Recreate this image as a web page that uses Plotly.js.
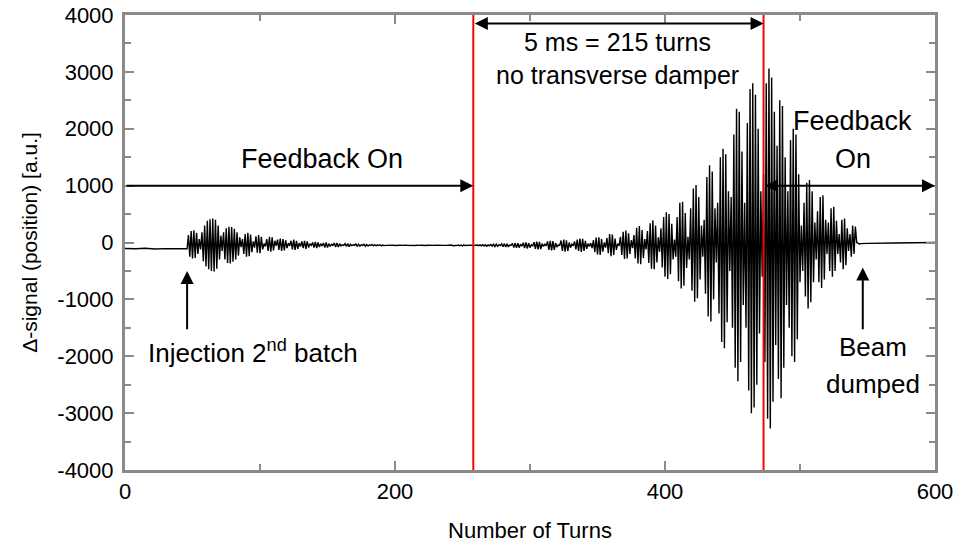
<!DOCTYPE html>
<html>
<head>
<meta charset="utf-8">
<script src="https://cdn.plot.ly/plotly-3.0.1.min.js"></script>
<style>html,body{margin:0;padding:0;background:#fff;}#chart{width:959px;height:549px;}</style>
</head>
<body>
<div id="chart"></div>
<script>
// ---- data ----
const preTurns = [0, 8, 15, 22, 30, 38, 45];
const preVals  = [-105, -110, -100, -115, -108, -112, -110];

const signalStartTurn = 46; // one sample per turn from here
const signal = [
  -110,130,-250,200,-280,215,-270,170,-200,60,      // 46-55
  -120,180,-330,300,-420,380,-470,410,-500,420,     // 56-65
  -510,400,-460,300,-300,120,-150,180,-300,250,     // 66-75
  -360,275,-370,270,-340,240,-300,180,-230,90,      // 76-85
  -80,60,-200,150,-250,170,-240,140,-170,20,        // 86-95
  -90,110,-180,130,-190,100,-120,-20,-70,60,        // 96-105
  -150,100,-160,90,-140,30,-60,50,-130,70,          // 106-115
  -150,60,-140,40,-100,-10,-60,30,-120,50,          // 116-125
  -130,30,-110,-10,-70,20,-100,30,-110,20,          // 126-135
  -90,-20,-50,0,-90,10,-100,0,-80,-20,              // 136-145
  -60,-10,-90,0,-90,-20,-70,-30,-50,-10,            // 146-155
  -80,-10,-80,-20,-60,-40,-50,-20,-70,-20,          // 156-165
  -75,-30,-55,-40,-50,-25,-70,-30,-65,-40,          // 166-175
  -50,-30,-65,-35,-60,-45,-50,-35,-60,-40,          // 176-185
  -55,-45,-50,-40,-60,-45,-55,-50,-48,-55,          // 186-195
  -45,-52,-50,-47,-53,-50,-46,-54,-49,-51,          // 196-205
  -47,-55,-48,-50,-52,-46,-54,-50,-49,-52,          // 206-215
  -47,-53,-50,-48,-51,-50,-49,-52,-48,-51,          // 216-225
  -50,-47,-53,-50,-49,-51,-50,-48,-52,-50,          // 226-235
  -49,-51,-50,-48,-52,-50,-45,-56,-48,-52,          // 236-245
  -50,-44,-58,-46,-60,-42,-54,-50,-48,-52,          // 246-255
  -50,-46,-55,-49,-51,-45,-56,-42,-60,-40,          // 256-265
  -62,-38,-64,-42,-58,-35,-62,-30,-70,-28,          // 266-275
  -68,-40,-55,-25,-75,-20,-80,-22,-78,-45,          // 276-285
  -50,-15,-88,-10,-92,-12,-90,-30,-65,-5,           // 286-295
  -100,0,-105,-10,-90,-40,-60,5,-110,15,            // 296-305
  -120,10,-115,-20,-70,-30,-60,20,-130,30,          // 306-315
  -140,25,-130,-10,-80,-40,-50,35,-150,50,          // 316-325
  -160,40,-150,0,-90,-30,-60,20,-120,50,            // 326-335
  -150,70,-165,65,-150,30,-110,-20,-70,-10,         // 336-345
  -100,40,-170,85,-210,90,-220,60,-160,0,           // 346-355
  -90,80,-190,150,-240,140,-220,70,-130,-20,        // 356-365
  -60,100,-220,190,-290,210,-280,160,-200,40,       // 366-375
  -100,130,-280,260,-370,290,-380,220,-270,60,      // 376-385
  -120,200,-360,340,-460,390,-470,300,-350,90,      // 386-395
  -160,250,-440,450,-600,530,-640,500,-560,330,     // 396-405
  -300,50,-250,450,-680,700,-810,715,-760,520,      // 406-415
  -450,100,-300,600,-850,950,-1040,1010,-980,800,   // 416-425
  -650,300,-250,400,-900,1150,-1300,1360,-1390,1250,// 426-435
  -1000,600,-350,700,-1250,1500,-1750,1650,-1860,1550, // 436-445
  -1400,900,-500,800,-1500,1900,-2200,2350,-2440,2300, // 446-455
  -2100,1600,-1100,700,-1500,2100,-2600,2700,-3000,2800, // 456-465
  -2900,2600,-2500,2000,-1600,900,-600,1200,-2100,2800,  // 466-475
  -3100,3060,-3270,2900,-2800,2300,-1800,1700,-2400,2500, // 476-485
  -2740,2400,-2200,1500,-1100,900,-1500,1800,-2000,2000,  // 486-495
  -2100,1900,-1700,1200,-700,300,-500,700,-950,1050,      // 496-505
  -1160,1100,-1050,900,-700,350,-300,550,-700,800,        // 506-515
  -800,830,-650,400,-200,350,-500,600,-600,630,           // 516-525
  -500,380,-200,150,-350,400,-470,420,-400,250,           // 526-535
  -150,150,-250,300,-200,280,0,-20,-25,-20                // 536-545
];
const postTurns = [550, 570, 590, 600];
const postVals  = [-15, -10, -5, 0];

const markerTurns = [258, 473];          // red vertical lines
const xTicks = [0, 200, 400, 600];
const xTickText = ['0', '200', '400', '600'];
const xMinor = [100, 300, 500];
const yTicks = [-4000, -3000, -2000, -1000, 0, 1000, 2000, 3000, 4000];
const yTickText = ['-4000', '-3000', '-2000', '-1000', '0', '1000', '2000', '3000', '4000'];
const yMinor = [-3500, -2500, -1500, -500, 500, 1500, 2500, 3500];

// ---- build trace ----
const xs = [], ys = [];
preTurns.forEach((t, i) => { xs.push(t); ys.push(preVals[i]); });
signal.forEach((v, i) => { xs.push(signalStartTurn + i); ys.push(v); });
postTurns.forEach((t, i) => { xs.push(t); ys.push(postVals[i]); });

const FONT = 'Arial, "Liberation Sans", sans-serif';
const AX = '#8a8a8a';

const traces = [{
  x: xs, y: ys, type: 'scatter', mode: 'lines',
  line: {color: 'black', width: 1.4}, hoverinfo: 'skip'
}];

const shapes = markerTurns.map(t => ({
  type: 'line', xref: 'x', yref: 'y', x0: t, x1: t, y0: -4000, y1: 4000,
  line: {color: '#ff0000', width: 2}
}));

function arrow(x, y, ax, ay, both) {
  const a = {x: x, y: y, ax: ax, ay: ay, xref: 'x', yref: 'y', axref: 'x', ayref: 'y',
    text: '', showarrow: true, arrowhead: 2, arrowsize: 1.3, arrowwidth: 2, arrowcolor: 'black'};
  if (both) { a.arrowside = 'end+start'; a.startarrowhead = 2; a.startarrowsize = 1.3; }
  return a;
}
function label(text, x, y, size) {
  return {x: x, y: y, xref: 'x', yref: 'y', text: text, showarrow: false,
    xanchor: 'center', yanchor: 'middle', font: {family: FONT, size: size, color: 'black'}};
}

const annotations = [
  arrow(markerTurns[0], 1000, 0, 1000, false),
  arrow(markerTurns[1], 3850, markerTurns[0], 3850, true),
  arrow(600, 1000, markerTurns[1], 1000, true),
  arrow(46, -500, 46, -1550, false),
  arrow(546.5, -440, 546.5, -1550, false),
  label('Feedback On', 146, 1460, 27),
  label('5 ms = 215 turns', 365, 3530, 25),
  label('no transverse damper', 365, 2950, 25),
  label('Feedback', 539, 2130, 27),
  label('On', 539, 1460, 27),
  label('Injection 2<sup>nd</sup> batch', 95, -1920, 26),
  label('Beam', 554, -1845, 26),
  label('dumped', 554, -2480, 26)
];

const layout = {
  width: 959, height: 549,
  margin: {l: 125, r: 24, t: 15, b: 79},
  paper_bgcolor: 'white', plot_bgcolor: 'white',
  showlegend: false,
  font: {family: FONT, color: 'black'},
  xaxis: {
    range: [0, 600], tickmode: 'array', tickvals: xTicks, ticktext: xTickText,
    ticks: 'inside', ticklen: 9, tickwidth: 2, tickcolor: AX,
    showline: true, linecolor: AX, linewidth: 3, mirror: 'ticks',
    showgrid: false, zeroline: false,
    minor: {tickmode: 'array', tickvals: xMinor, ticks: 'inside', ticklen: 6, tickwidth: 2, tickcolor: AX},
    tickfont: {family: FONT, size: 22, color: 'black'},
    title: {text: 'Number of Turns', font: {family: FONT, size: 22, color: 'black'}, standoff: 20}
  },
  yaxis: {
    range: [-4000, 4000], tickmode: 'array', tickvals: yTicks, ticktext: yTickText,
    ticks: 'inside', ticklen: 9, tickwidth: 2, tickcolor: AX,
    showline: true, linecolor: AX, linewidth: 3, mirror: 'ticks',
    showgrid: false, zeroline: false, ticklabelstandoff: 4,
    minor: {tickmode: 'array', tickvals: yMinor, ticks: 'inside', ticklen: 6, tickwidth: 2, tickcolor: AX},
    tickfont: {family: FONT, size: 22, color: 'black'},
    title: {text: 'Δ-signal (position) [a.u.]', font: {family: FONT, size: 21, color: 'black'}, standoff: 14}
  },
  shapes: shapes,
  annotations: annotations
};

Plotly.newPlot('chart', traces, layout, {staticPlot: true, displayModeBar: false});
</script>
</body>
</html>
